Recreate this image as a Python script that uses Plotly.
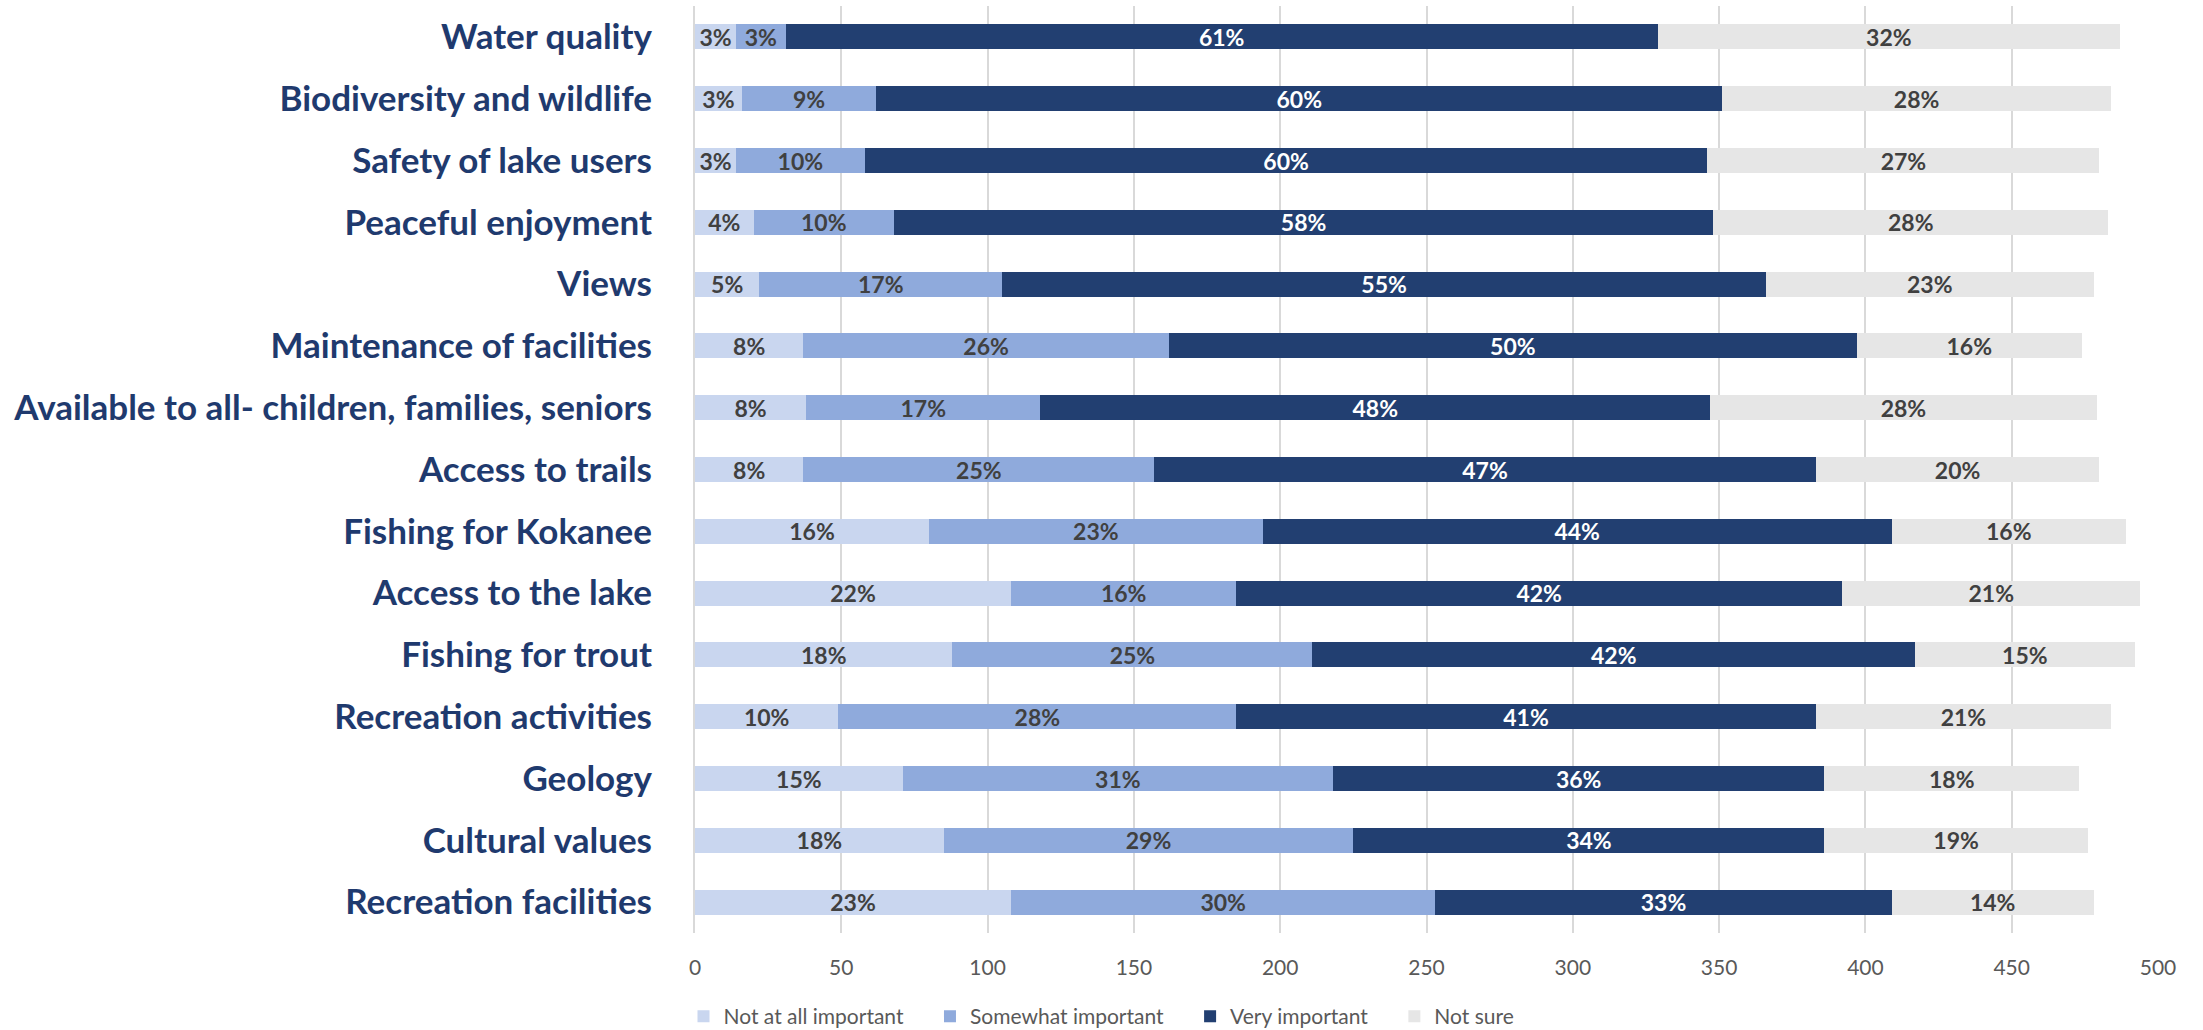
import plotly.graph_objects as go

categories = [
    "Water quality",
    "Biodiversity and wildlife",
    "Safety of lake users",
    "Peaceful enjoyment",
    "Views",
    "Maintenance of facilities",
    "Available to all- children, families, seniors",
    "Access to trails",
    "Fishing for Kokanee",
    "Access to the lake",
    "Fishing for trout",
    "Recreation activities",
    "Geology",
    "Cultural values",
    "Recreation facilities",
]

not_at_all = [14, 16, 14, 20, 22, 37, 38, 37, 80, 108, 88, 49, 71, 85, 108]
somewhat = [17, 46, 44, 48, 83, 125, 80, 120, 114, 77, 123, 136, 147, 140, 145]
very = [298, 289, 288, 280, 261, 235, 229, 226, 215, 207, 206, 198, 168, 161, 156]
not_sure = [158, 133, 134, 135, 112, 77, 132, 97, 80, 102, 75, 101, 87, 90, 69]

pct_not_at_all = [3, 3, 3, 4, 5, 8, 8, 8, 16, 22, 18, 10, 15, 18, 23]
pct_somewhat = [3, 9, 10, 10, 17, 26, 17, 25, 23, 16, 25, 28, 31, 29, 30]
pct_very = [61, 60, 60, 58, 55, 50, 48, 47, 44, 42, 42, 41, 36, 34, 33]
pct_not_sure = [32, 28, 27, 28, 23, 16, 28, 20, 16, 21, 15, 21, 18, 19, 14]

x_ticks = [0, 50, 100, 150, 200, 250, 300, 350, 400, 450, 500]

series_names = ["Not at all important", "Somewhat important", "Very important", "Not sure"]

series = [
    (series_names[0], not_at_all, pct_not_at_all, "#C9D6EF", "#404040"),
    (series_names[1], somewhat, pct_somewhat, "#8FAADC", "#404040"),
    (series_names[2], very, pct_very, "#223F71", "#FFFFFF"),
    (series_names[3], not_sure, pct_not_sure, "#E6E6E6", "#404040"),
]

FONT = "Lato"
PAD = "\u00a0" * 4  # extra spacing after legend entries (Excel-like gaps)

fig = go.Figure()
for i, (name, vals, pcts, color, tcolor) in enumerate(series):
    fig.add_trace(go.Bar(
        name=name + (PAD if i < len(series) - 1 else ""),
        y=categories,
        x=vals,
        orientation="h",
        marker=dict(color=color, line=dict(width=0)),
        text=[f"{p}%" for p in pcts],
        textposition="inside",
        insidetextanchor="middle",
        textangle=0,
        textfont=dict(family=FONT, size=23, color=tcolor, weight="bold"),
        hovertemplate="%{y}<br>" + name + ": %{x}<extra></extra>",
    ))

fig.update_layout(
    barmode="stack",
    bargap=0.595,
    width=2203,
    height=1030,
    paper_bgcolor="white",
    plot_bgcolor="white",
    margin=dict(l=695, r=45, t=6, b=97),
    uniformtext=dict(minsize=23, mode="show"),
    font=dict(family=FONT),
    legend=dict(
        orientation="h",
        xref="container",
        yref="container",
        x=0.5,
        xanchor="center",
        y=0.013,
        yanchor="middle",
        font=dict(family=FONT, size=21, color="#595959"),
        traceorder="normal",
        itemwidth=30,
    ),
    showlegend=True,
)

fig.update_xaxes(
    range=[0, 500],
    tickvals=x_ticks,
    ticktext=[str(t) for t in x_ticks],
    showgrid=True,
    gridcolor="#D9D9D9",
    gridwidth=1.5,
    zeroline=False,
    showline=False,
    ticks="",
    ticklabelstandoff=20,
    tickfont=dict(family=FONT, size=21, color="#595959"),
    fixedrange=True,
)

fig.update_yaxes(
    categoryorder="array",
    categoryarray=categories,
    autorange="reversed",
    showgrid=False,
    showline=True,
    linecolor="#D9D9D9",
    linewidth=2,
    ticks="",
    ticklabelstandoff=34,
    tickfont=dict(family=FONT, size=35, color="#1F3A6E", weight="bold"),
    fixedrange=True,
)

fig.write_html(
    "out.html",
    config={"displayModeBar": False},
    post_script="document.body.style.margin='0';",
)
